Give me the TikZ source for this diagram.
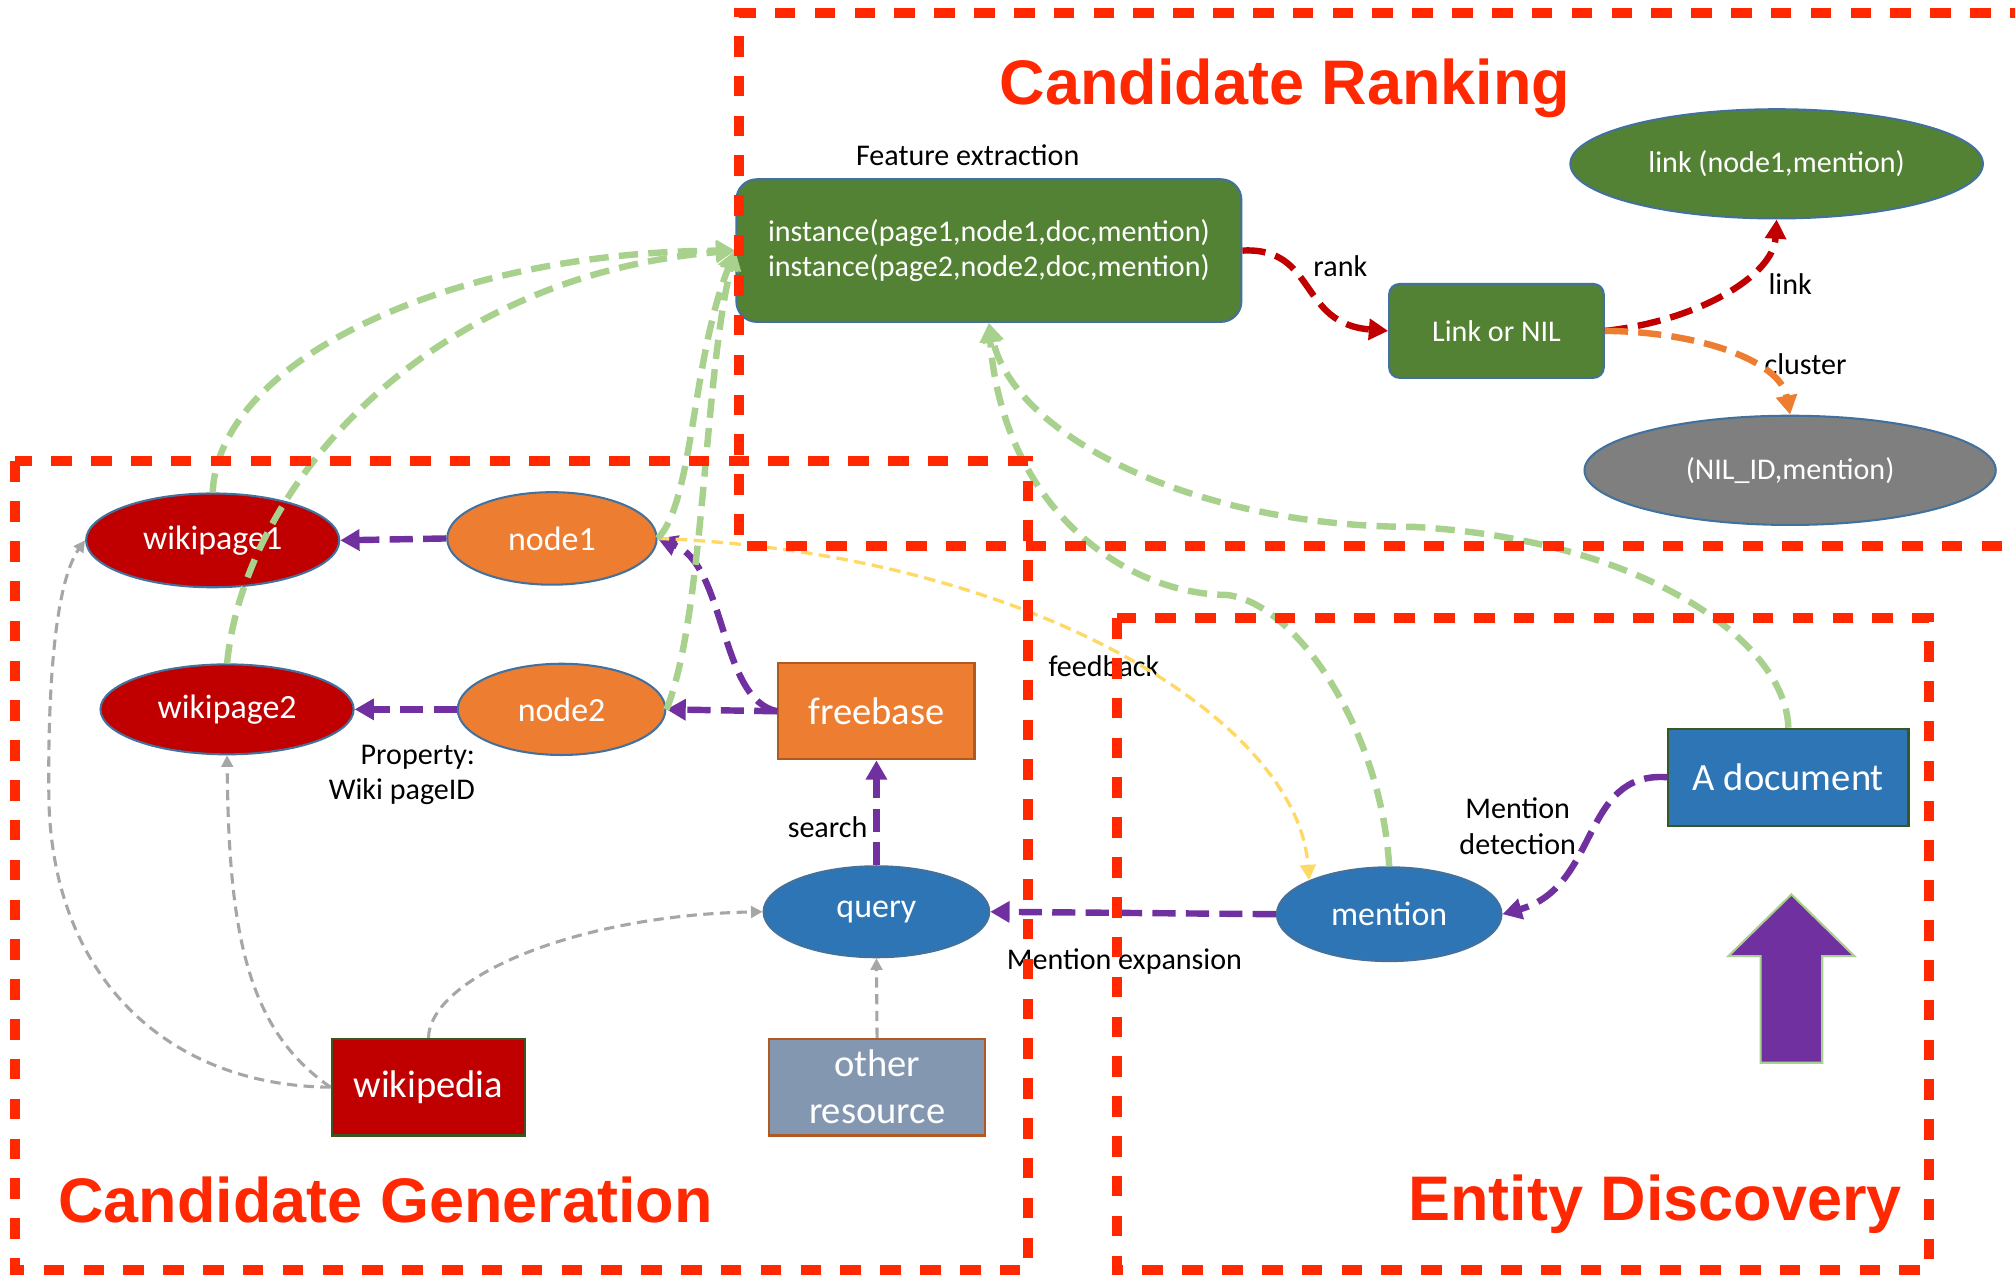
\documentclass[tikz,border=0pt]{standalone}
\usepackage{fontspec}
\setmainfont{Carlito}
\newfontfamily\headfont{Liberation Sans}
\usetikzlibrary{arrows.meta,shapes.geometric}

\definecolor{zonered}{RGB}{255,40,0}
\definecolor{wine}{HTML}{C00000}
\definecolor{leaf}{HTML}{548235}
\definecolor{ash}{HTML}{7F7F7F}
\definecolor{tangerine}{HTML}{ED7D31}
\definecolor{ocean}{HTML}{2E75B6}
\definecolor{violet}{HTML}{7030A0}
\definecolor{sage}{HTML}{A9D18E}
\definecolor{fog}{HTML}{A6A6A6}
\definecolor{sand}{HTML}{FFD966}
\definecolor{slate}{HTML}{8497B0}
\definecolor{rim}{HTML}{41719C}
\definecolor{rust}{HTML}{AE5A21}
\definecolor{moss}{HTML}{385723}

\begin{document}
\begin{tikzpicture}[x=0.5pt,y=-0.5pt,
  zone/.style={draw=zonered, line width=3.9pt, dash pattern=on 8pt off 7.5pt},
  headline/.style={font=\headfont\bfseries\fontsize{24.5}{28}\selectfont, text=zonered, anchor=base, inner sep=0},
  oval/.style={ellipse, draw=rim, line width=0.8pt, inner sep=0, text=white, font=\fontsize{13.2}{15}\selectfont},
  block/.style={rectangle, line width=0.8pt, inner sep=0, text=white, font=\fontsize{15}{18.3}\selectfont, align=center},
  note/.style={font=\fontsize{11.7}{13.8}\selectfont, inner sep=0, align=center},
  heavy/.style={line width=2.5pt, dash pattern=on 9pt off 4pt, -{Triangle[length=7.5pt,width=8pt]}},
  vflow/.style={heavy, draw=violet},
  gflow/.style={heavy, draw=sage, dash pattern=on 7.5pt off 4pt},
  rflow/.style={heavy, draw=wine},
  oflow/.style={heavy, draw=tangerine},
  light/.style={draw=fog, line width=1.2pt, dash pattern=on 4pt off 2.5pt, -{Triangle[length=4.5pt,width=4.5pt]}},
  yflow/.style={draw=sand, line width=1.3pt, dash pattern=on 4.5pt off 2.5pt, -{Triangle[length=6pt,width=6pt]}},
]
\useasboundingbox (0,0) rectangle (1568,994);
\clip (0,0) rectangle (1568,994);
\fill[white] (0,0) rectangle (1568,994);

% ---- candidate ranking
\node[note] (featlbl) at (753,121) {Feature extraction};
\node[block, fill=leaf, draw=rim, rounded corners=8pt, minimum width=196.5pt, minimum height=55.5pt,
      font=\fontsize{11.7}{13.5}\selectfont] (inst) at (769.5,195)
      {instance(page1,node1,doc,mention)\\instance(page2,node2,doc,mention)};
\node[block, fill=leaf, draw=rim, rounded corners=4pt, minimum width=83.5pt, minimum height=36.5pt,
      font=\fontsize{11.7}{14}\selectfont] (lornil) at (1164.5,257.5) {Link or NIL};
\node[oval, fill=leaf, minimum width=160.5pt, minimum height=42.5pt,
      font=\fontsize{11.7}{14}\selectfont] (linked) at (1382.5,127.5) {link (node1,mention)};
\node[oval, fill=ash, minimum width=160pt, minimum height=42.5pt,
      font=\fontsize{11.7}{14}\selectfont] (nilid) at (1393,366) {(NIL\_ID,mention)};
\node[note] (rk) at (1043,207) {rank};
\node[note] (lk) at (1393,221) {link};
\node[note] (cl) at (1405,283) {cluster};

% ---- candidate generation
\node[oval, fill=wine, minimum width=98.5pt, minimum height=36.5pt] (wp1) at (165.5,420.5) {wikipage1};
\node[oval, fill=wine, minimum width=98.5pt, minimum height=35pt] (wp2) at (176.7,552) {wikipage2};
\node[oval, fill=tangerine, minimum width=81.5pt, minimum height=36pt] (n1) at (429.5,419) {node1};
\node[oval, fill=tangerine, minimum width=80.8pt, minimum height=35.5pt] (n2) at (437,552) {node2};
\node[block, fill=tangerine, draw=rust, minimum width=76.3pt, minimum height=37.4pt] (fb) at (682,553.5) {freebase};
\node[oval, fill=ocean, minimum width=87.8pt, minimum height=35.4pt] (qry) at (682,709.5) {query};
\node[block, fill=wine, draw=moss, minimum width=75.4pt, minimum height=37.6pt] (wiki) at (333.4,846) {wikipedia};
\node[block, fill=slate, draw=rust, minimum width=83.8pt, minimum height=37.6pt] (other) at (682.5,846) {other\\resource};
\node[note, anchor=east, align=right] (prop) at (370,603) {Property:\\Wiki pageID};
\node[note] (srch) at (644,644) {search};

% ---- entity discovery
\node[oval, fill=ocean, minimum width=87.4pt, minimum height=36.5pt] (ment) at (1081,711.4) {mention};
\node[block, fill=ocean, draw=moss, minimum width=93.5pt, minimum height=37.7pt] (doc) at (1391.6,604.8) {A document};
\node[note] (mdet) at (1181,643) {Mention\\detection};
\node[note] (mexp) at (875,748) {Mention expansion};
\node[note] (fbk) at (859,518) {feedback};
\draw[fill=violet, draw=sage, line width=0.8pt]
  (1370,827) -- (1370,744) -- (1345,744) -- (1394,696) -- (1443,744) -- (1418,744) -- (1418,827) -- cycle;

% ---- purple flows
\draw[vflow] (n1.west) -- (wp1.east);
\draw[vflow] (n2.west) -- (wp2.east);
\draw[vflow] (fb.west) -- (n2.east);
\draw[vflow] (fb.west) .. controls (560,545) and (565,440) .. (n1.east);
\draw[vflow] (qry.north) -- (fb.south);
\draw[vflow] (ment.west) -- (qry.east);
\draw[vflow] (doc.west) .. controls (1230,600) and (1245,690) .. (ment.east);

% ---- ranking outcomes
\draw[rflow] (inst.east) .. controls (1025,192) and (1010,252) .. (lornil.west);
\draw[rflow] (lornil.east) .. controls (1320,250) and (1380,215) .. (linked.south);
\draw[oflow] (lornil.east) .. controls (1320,258) and (1385,280) .. (nilid.north);

% ---- resource lookups
\draw[light] (wiki.west) .. controls (130,845) and (40,760) .. (38,620)
             .. controls (37,520) and (45,450) .. (wp1.west);
\draw[light] (wiki.west) .. controls (190,800) and (178,720) .. (wp2.south);
\draw[light] (wiki.north) .. controls (335,760) and (450,712) .. (qry.west);
\draw[light] (other.north) -- (qry.south);

% ---- feedback
\draw[yflow] (n1.east) .. controls (800,430) and (1010,560) .. (ment.north west);

% ---- feature extraction inputs
\draw[gflow] (wp1.north) .. controls (170,280) and (350,196) .. (inst.west);
\draw[gflow] (wp2.north) .. controls (190,380) and (330,215) .. (inst.west);
\draw[gflow] (n1.east) .. controls (540,390) and (538,280) .. (inst.west);
\draw[gflow] (n2.east) .. controls (548,480) and (548,290) .. (inst.west);
\draw[gflow] (ment.north) .. controls (1075,570) and (1010,470) .. (955,463)
             .. controls (870,462) and (780,390) .. (inst.south);
\draw[gflow] (doc.north) .. controls (1390,500) and (1280,420) .. (1100,410)
             .. controls (930,410) and (790,340) .. (inst.south);

% ---- stage frames
\draw[zone] (1580,10) -- (575,10) -- (575,425) -- (1580,425);
\draw[zone] (12,359) rectangle (800,988);
\draw[zone] (869,481) rectangle (1501,988);

\node[headline] (hrank) at (1000,81) {Candidate Ranking};
\node[headline] (hgen) at (300,951) {Candidate Generation};
\node[headline] (hdisc) at (1288,950) {Entity Discovery};
\end{tikzpicture}
\end{document}
